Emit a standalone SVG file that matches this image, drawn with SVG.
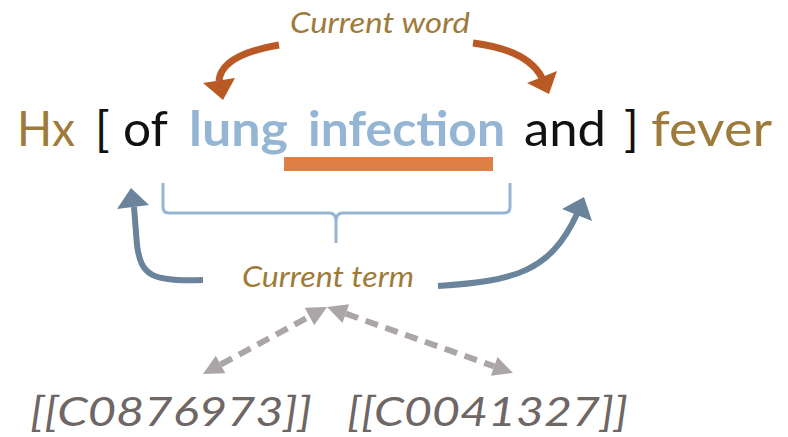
<svg xmlns="http://www.w3.org/2000/svg" width="788" height="437" viewBox="0 0 788 437">
  <style>
    text { font-family: Lato, "Liberation Sans", sans-serif; }
    .main { font-size: 48px; }
    .gold { fill: #9E7B3A; }
    .blk { fill: #111111; }
    .term { fill: #94B5D4; font-weight: 700; }
    .lbl { font-size: 28px; font-style: italic; fill: #9E7B3A; }
    .code { font-size: 40px; font-style: italic; fill: #6E6765; }
    .orange { fill: none; stroke: #B95A26; stroke-width: 7; }
    .orange-head { fill: #B95A26; }
    .blue { fill: none; stroke: #6A849B; stroke-width: 6; }
    .blue-head { fill: #6A849B; }
    .gray { fill: none; stroke: #ABA6A5; stroke-width: 6; stroke-dasharray: 13 8; }
    .gray-head { fill: #ABA6A5; }
    .brace { fill: none; stroke: #94B5D4; stroke-width: 3; stroke-linejoin: round; }
  </style>

  <!-- sentence -->
  <g id="sentence">
    <text class="main gold" x="17" y="146" textLength="58" lengthAdjust="spacingAndGlyphs">Hx</text>
    <text class="main blk" x="95" y="146">[</text>
    <text class="main blk" x="123" y="146" textLength="45" lengthAdjust="spacingAndGlyphs">of</text>
    <text class="main term" x="189" y="146" textLength="99" lengthAdjust="spacingAndGlyphs">lung</text>
    <text class="main term" x="308" y="146" textLength="197" lengthAdjust="spacingAndGlyphs">infection</text>
    <text class="main blk" x="524" y="146" textLength="82" lengthAdjust="spacingAndGlyphs">and</text>
    <text class="main blk" x="624" y="146">]</text>
    <text class="main gold" x="651" y="146" textLength="121" lengthAdjust="spacingAndGlyphs">fever</text>
  </g>

  <!-- current word marker bar -->
  <g id="current-word-bar">
    <rect x="284" y="157" width="209" height="14" fill="#DE7F45"/>
  </g>

  <!-- brace spanning the current term -->
  <g id="term-brace">
    <path class="brace" d="M163,183 L163,207 Q163,213 169,213 L330,213 Q336,213 336,222 L336,243 M336,222 Q336,213 342,213 L504,213 Q510,213 510,207 L510,183"/>
  </g>

  <g id="current-word">
    <text class="lbl" x="290" y="33" textLength="180" lengthAdjust="spacingAndGlyphs">Current word</text>
  </g>

  <g id="current-term">
    <text class="lbl" x="242" y="287" textLength="172" lengthAdjust="spacingAndGlyphs">Current term</text>
  </g>

  <g id="concept-1">
    <text class="code" x="30" y="426" textLength="282" lengthAdjust="spacingAndGlyphs">[[C0876973]]</text>
  </g>
  <g id="concept-2">
    <text class="code" x="347" y="426" textLength="281" lengthAdjust="spacingAndGlyphs">[[C0041327]]</text>
  </g>

  <!-- connectors -->
  <g id="connectors">
    <path class="orange" d="M279,45 Q221,55 219,81"/>
    <polygon class="orange-head" points="203,83 235,78 223,100"/>
    <path class="orange" d="M473,43 Q528,50 542,78"/>
    <polygon class="orange-head" points="527,83 557,71 549,94"/>

    <path class="blue" d="M203,280 C152,282 141,276 137,245 L134,207"/>
    <polygon class="blue-head" points="117,209 149,205 131,188"/>
    <path class="blue" d="M438,286 C515,281 550,272 577,214"/>
    <polygon class="blue-head" points="562,209 592,221 584,197"/>

    <path class="gray" d="M220.6,364.5 L309.4,316.5"/>
    <polygon class="gray-head" points="203,374 225.3,373.3 215.8,355.7"/>
    <polygon class="gray-head" points="327,307 314.2,325.3 304.7,307.7"/>
    <path class="gray" d="M345.8,313.7 L494.2,366.3"/>
    <polygon class="gray-head" points="327,307 342.5,323.1 349.1,304.3"/>
    <polygon class="gray-head" points="513,373 490.9,375.7 497.5,356.9"/>
  </g>
</svg>
